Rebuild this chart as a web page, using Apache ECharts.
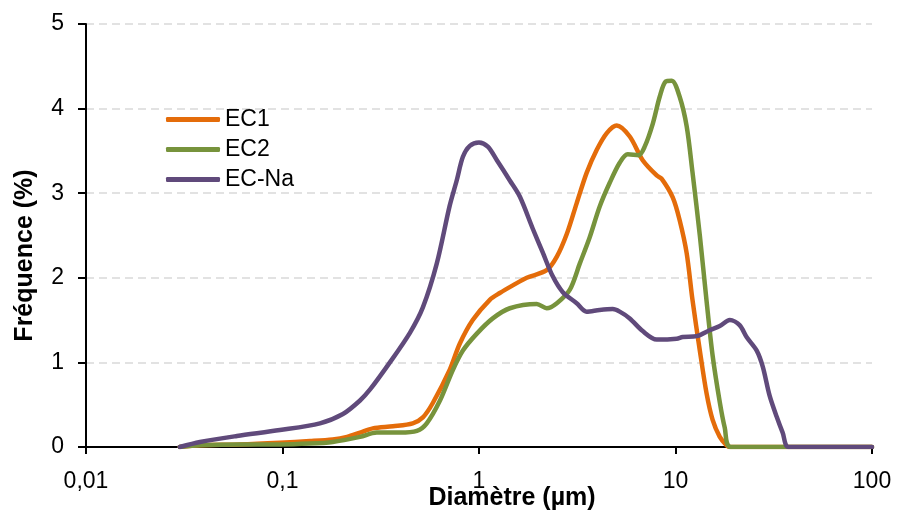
<!DOCTYPE html>
<html>
<head>
<meta charset="utf-8">
<script src="https://cdn.jsdelivr.net/npm/echarts@6/dist/echarts.min.js"></script>
<style>
html,body{margin:0;padding:0;background:#fff;}
#chart{width:897px;height:515px;}
</style>
</head>
<body>
<div id="chart"></div>
<script>
// Diameters (µm) and frequencies (%)
const ec1D = [0.03, 0.038, 0.061, 0.097, 0.138, 0.18, 0.213, 0.248, 0.288, 0.365, 0.46, 0.518, 0.582, 0.709, 0.798, 0.929, 1.135, 1.276, 1.486, 1.75, 2.21, 2.49, 2.8, 3.14, 3.53, 3.97, 4.47, 5.02, 5.85, 6.81, 8.02, 8.51, 9.68, 10.5, 11.4, 12.2, 13.3, 14.4, 15.45, 16.8, 18.2, 18.9, 100];
const ec1V = [0, 0.02, 0.03, 0.05, 0.07, 0.09, 0.12, 0.17, 0.22, 0.245, 0.28, 0.35, 0.52, 0.91, 1.22, 1.50, 1.74, 1.82, 1.91, 2.00, 2.09, 2.25, 2.52, 2.88, 3.24, 3.51, 3.71, 3.80, 3.67, 3.39, 3.21, 3.17, 2.95, 2.68, 2.29, 1.74, 1.14, 0.63, 0.32, 0.12, 0.02, 0, 0];

const ec2D = [0.03, 0.038, 0.061, 0.097, 0.138, 0.18, 0.248, 0.302, 0.395, 0.483, 0.542, 0.633, 0.736, 0.828, 0.975, 1.175, 1.435, 1.968, 2.21, 2.49, 2.9, 3.26, 3.66, 4.11, 4.62, 5.2, 5.71, 6.5, 6.97, 7.66, 8.31, 8.91, 9.57, 10.5, 11.4, 12.2, 13.3, 14.4, 15.45, 16.8, 17.8, 19.1, 100];
const ec2V = [0, 0.02, 0.03, 0.03, 0.04, 0.06, 0.12, 0.17, 0.17, 0.19, 0.28, 0.55, 0.91, 1.14, 1.34, 1.52, 1.64, 1.69, 1.64, 1.70, 1.86, 2.17, 2.48, 2.84, 3.12, 3.36, 3.46, 3.45, 3.55, 3.82, 4.14, 4.32, 4.33, 4.14, 3.79, 3.25, 2.5, 1.72, 1.08, 0.53, 0.23, 0, 0];

const naD = [0.03, 0.038, 0.0586, 0.097, 0.155, 0.203, 0.248, 0.279, 0.352, 0.445, 0.518, 0.61, 0.709, 0.77, 0.828, 0.898, 1.0, 1.109, 1.233, 1.435, 1.613, 1.878, 2.11, 2.37, 2.67, 3.14, 3.53, 4.11, 4.79, 5.2, 5.85, 6.81, 8.02, 10.14, 10.88, 12.8, 14.9, 16.8, 18.9, 21.2, 23.0, 25.9, 27.8, 30.1, 32.7, 35.1, 37.7, 100];
const naV = [0, 0.06, 0.13, 0.20, 0.28, 0.39, 0.55, 0.68, 1.00, 1.35, 1.65, 2.17, 2.85, 3.15, 3.43, 3.56, 3.60, 3.55, 3.39, 3.15, 2.96, 2.58, 2.30, 2.02, 1.83, 1.70, 1.60, 1.62, 1.63, 1.60, 1.52, 1.37, 1.27, 1.28, 1.30, 1.31, 1.38, 1.43, 1.50, 1.44, 1.30, 1.14, 0.95, 0.61, 0.36, 0.17, 0, 0];

const seriesNames = ['EC1', 'EC2', 'EC-Na'];
const xTickLabels = {'-2': '0,01', '-1': '0,1', '0': '1', '1': '10', '2': '100'};
const yTicks = [0, 1, 2, 3, 4, 5];

const zip = (d, v) => d.map((x, i) => [x, v[i]]);
const font = 'Arial, "Liberation Sans", sans-serif';

const chart = echarts.init(document.getElementById('chart'), null, {renderer: 'canvas'});
chart.setOption({
  animation: false,
  backgroundColor: '#ffffff',
  grid: {left: 86, right: 25, top: 24, bottom: 68, containLabel: false, outerBoundsMode: 'none'},
  legend: {
    orient: 'vertical', left: 161, top: 103,
    icon: 'roundRect', itemWidth: 54, itemHeight: 5, itemGap: 7,
    textStyle: {fontFamily: font, fontSize: 23, color: '#000'},
    data: seriesNames
  },
  xAxis: {
    type: 'log', logBase: 10, min: 0.01, max: 100,
    name: 'Diamètre (µm)', nameLocation: 'middle', nameGap: 39, nameMoveOverlap: false,
    nameTextStyle: {fontFamily: font, fontSize: 25, fontWeight: 'bold', color: '#000', padding: [0, 0, 0, 66]},
    axisLine: {show: true, lineStyle: {color: '#000', width: 2}},
    axisTick: {show: true, length: 7, lineStyle: {color: '#000', width: 2}},
    minorTick: {show: false},
    axisLabel: {
      fontFamily: font, fontSize: 23, color: '#000', margin: 23,
      formatter: v => xTickLabels[String(Math.round(Math.log10(v)))] || ''
    },
    splitLine: {show: false}
  },
  yAxis: {
    type: 'value', min: yTicks[0], max: yTicks[yTicks.length - 1], interval: 1,
    name: 'Fréquence (%)', nameLocation: 'middle', nameGap: 48, nameRotate: 90, nameMoveOverlap: false,
    nameTextStyle: {fontFamily: font, fontSize: 25, fontWeight: 'bold', color: '#000', padding: [0, 40, 0, 0]},
    axisLine: {show: true, lineStyle: {color: '#000', width: 2}},
    axisTick: {show: true, length: 8, lineStyle: {color: '#000', width: 2}},
    axisLabel: {fontFamily: font, fontSize: 23, color: '#000', margin: 22},
    splitLine: {show: true, lineStyle: {color: '#D9D9D9', width: 1.5, type: [8, 5]}}
  },
  series: [
    {name: seriesNames[0], type: 'line', data: zip(ec1D, ec1V), showSymbol: false, symbol: 'none', smooth: 0.3,
     lineStyle: {color: '#E46C0A', width: 4.5, cap: 'round', join: 'round'}, itemStyle: {color: '#E46C0A'}},
    {name: seriesNames[1], type: 'line', data: zip(ec2D, ec2V), showSymbol: false, symbol: 'none', smooth: 0.3,
     lineStyle: {color: '#77933C', width: 4.5, cap: 'round', join: 'round'}, itemStyle: {color: '#77933C'}},
    {name: seriesNames[2], type: 'line', data: zip(naD, naV), showSymbol: false, symbol: 'none', smooth: 0.3,
     lineStyle: {color: '#604A7B', width: 4.5, cap: 'round', join: 'round'}, itemStyle: {color: '#604A7B'}}
  ]
});
</script>
</body>
</html>
